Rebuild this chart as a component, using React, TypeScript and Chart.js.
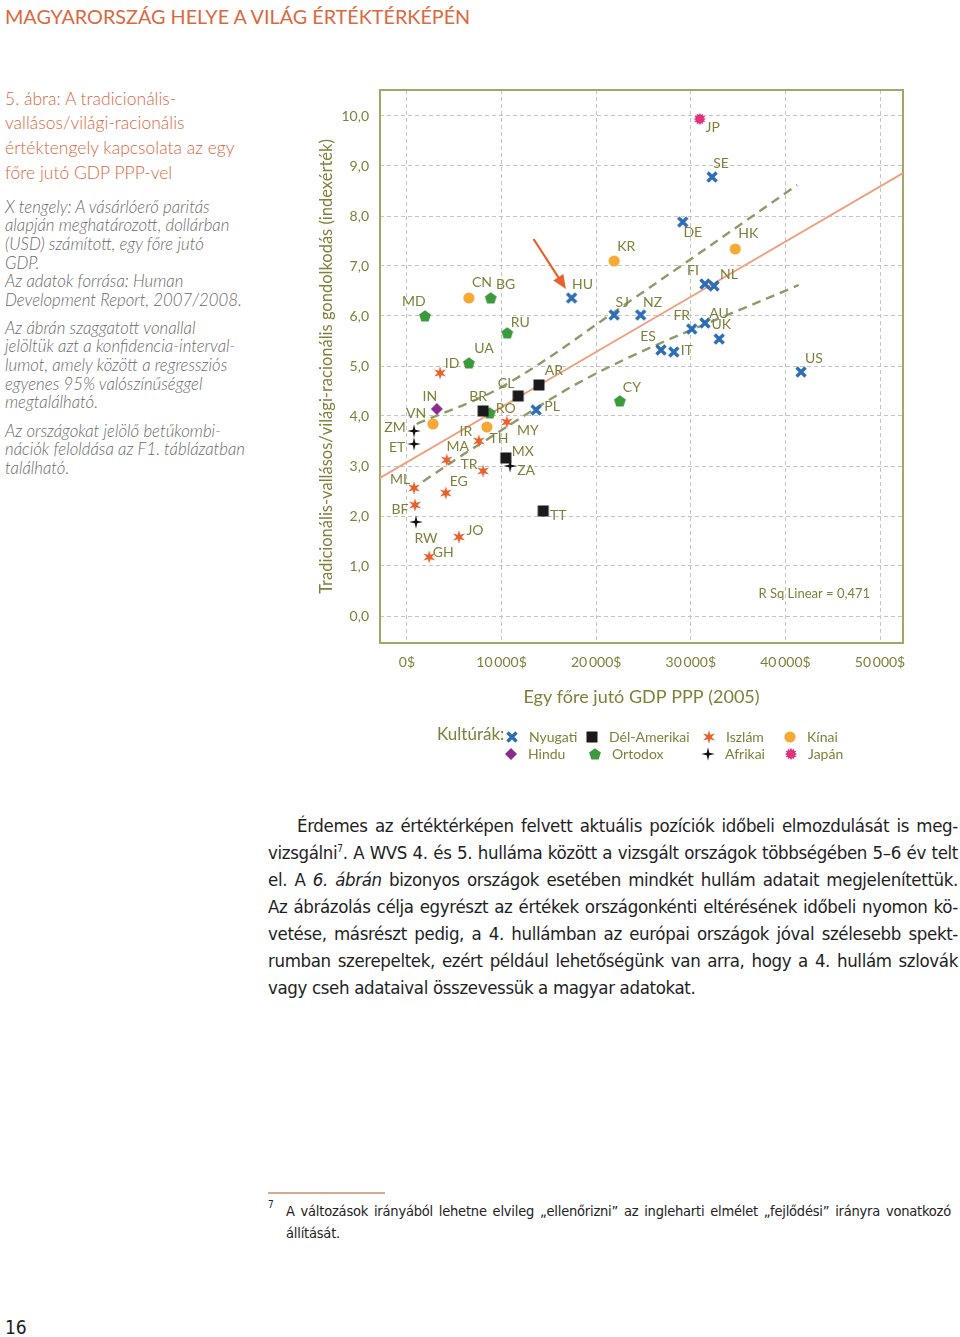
import React, { useEffect, useRef } from "react";
import { Chart, registerables } from "chart.js";

Chart.register(...registerables);

// ---------------- data ----------------
const nyugatiCodes = ["HU", "SJ", "NZ", "FI", "NL", "FR", "AU", "UK", "ES", "IT", "US", "SE", "DE", "PL"];
const nyugatiGdp = [17400, 21900, 24700, 31500, 32450, 30100, 31500, 33000, 26850, 28200, 41650, 32250, 29150, 13650];
const nyugatiIdx = [6.36, 6.02, 6.02, 6.64, 6.6, 5.74, 5.86, 5.54, 5.32, 5.28, 4.88, 8.78, 7.88, 4.12];

const delAmerikaiCodes = ["AR", "CL", "BR", "MX", "TT"];
const delAmerikaiGdp = [13950, 11750, 8050, 10450, 14400];
const delAmerikaiIdx = [4.62, 4.4, 4.1, 3.16, 2.1];

const iszlamCodes = ["ID", "MY", "IR", "MA", "TR", "ML", "EG", "BF", "JO", "GH"];
const iszlamGdp = [3500, 10550, 7600, 4200, 8050, 750, 4100, 850, 5500, 2350];
const iszlamIdx = [4.86, 3.88, 3.5, 3.12, 2.9, 2.56, 2.46, 2.22, 1.58, 1.18];

const kinaiCodes = ["CN", "VN", "TH", "KR", "HK"];
const kinaiGdp = [6550, 2750, 8450, 21900, 34700];
const kinaiIdx = [6.36, 3.84, 3.78, 7.1, 7.34];

const hinduCodes = ["IN"];
const hinduGdp = [3150];
const hinduIdx = [4.14];

const ortodoxCodes = ["BG", "MD", "RU", "UA", "RO", "CY"];
const ortodoxGdp = [8850, 1900, 10600, 6550, 8750, 22500];
const ortodoxIdx = [6.36, 6.0, 5.66, 5.06, 4.06, 4.3];

const afrikaiCodes = ["ZM", "ET", "ZA", "RW"];
const afrikaiGdp = [750, 750, 10900, 950];
const afrikaiIdx = [3.7, 3.44, 3.0, 1.88];

const japanCodes = ["JP"];
const japanGdp = [30950];
const japanIdx = [9.94];

const regressionGdp = [-2850, 52430];
const regressionIdx = [2.76, 8.86];
const upperBandGdp = [1020, 10200, 23200, 41250];
const upperBandIdx = [3.84, 4.6, 6.25, 8.62];
const lowerBandGdp = [1700, 6700, 20400, 41400];
const lowerBandIdx = [2.69, 3.32, 4.89, 6.62];

const arrowFrom = [13380, 7.54];
const arrowTo = [16800, 6.54];

const xTickValues = [0, 10000, 20000, 30000, 40000, 50000];
const xTickLabels = ["0$", "10\u2009000$", "20\u2009000$", "30\u2009000$", "40\u2009000$", "50\u2009000$"];
const yTickValues = [0, 1, 2, 3, 4, 5, 6, 7, 8, 9, 10];
const rSquaredText = "R Sq Linear = 0,471";
const legendPrefix = "Kultúrák:";

// label placement (layout only)
const labelOffsets: Record<string, [number, number]> = {
  JP: [13, 8], SE: [9, -14], DE: [10, 10], HK: [13, -16], KR: [12, -15], FI: [-12, -14], NL: [15, -12],
  CN: [13, -16], BG: [15, -14], HU: [11, -14], MD: [-11, -15], SJ: [8, -13], NZ: [12, -13], RU: [13, -11],
  FR: [-10, -14], AU: [14, -10], UK: [2, -15], ES: [-13, -14], IT: [13, -2], UA: [15, -15], ID: [12, -10],
  AR: [15, -15], US: [13, -14], CY: [12, -14], CL: [-12, -13], IN: [-7, -13], BR: [-5, -15], PL: [16, -4],
  RO: [16, -5], VN: [-17, -11], ZM: [-19, -4], MY: [21, 8], IR: [-13, -10], TH: [12, 11], ET: [-17, 3],
  MA: [11, -14], MX: [17, -7], TR: [-14, -7], ZA: [16, 4], ML: [-14, -9], EG: [13, -12], BF: [-15, 4],
  TT: [15, 4], JO: [16, -7], RW: [10, 16], GH: [14, -5],
};

const OLIVE = "#7f7f3a";
const FRAME = "#a3a766";
const GRID = "#c4c4c4";
const FONT = "Lato, 'Open Sans', sans-serif";

type Series = { name: string; codes: string[]; gdp: number[]; idx: number[]; kind: string; color: string };

const series: Series[] = [
  { name: "Nyugati", codes: nyugatiCodes, gdp: nyugatiGdp, idx: nyugatiIdx, kind: "cross", color: "#2d6db4" },
  { name: "Dél-Amerikai", codes: delAmerikaiCodes, gdp: delAmerikaiGdp, idx: delAmerikaiIdx, kind: "square", color: "#1a1a1a" },
  { name: "Iszlám", codes: iszlamCodes, gdp: iszlamGdp, idx: iszlamIdx, kind: "star6", color: "#e8602c" },
  { name: "Kínai", codes: kinaiCodes, gdp: kinaiGdp, idx: kinaiIdx, kind: "circle", color: "#f6a935" },
  { name: "Hindu", codes: hinduCodes, gdp: hinduGdp, idx: hinduIdx, kind: "diamond", color: "#8b2c8c" },
  { name: "Ortodox", codes: ortodoxCodes, gdp: ortodoxGdp, idx: ortodoxIdx, kind: "pentagon", color: "#3c9a3c" },
  { name: "Afrikai", codes: afrikaiCodes, gdp: afrikaiGdp, idx: afrikaiIdx, kind: "star4", color: "#111111" },
  { name: "Japán", codes: japanCodes, gdp: japanGdp, idx: japanIdx, kind: "burst", color: "#e2317d" },
];

function starPath(g: CanvasRenderingContext2D, n: number, outer: number, inner: number, rot = -Math.PI / 2) {
  g.beginPath();
  for (let i = 0; i < n * 2; i++) {
    const r = i % 2 === 0 ? outer : inner;
    const a = rot + (i * Math.PI) / n;
    const px = Math.cos(a) * r;
    const py = Math.sin(a) * r;
    if (i === 0) g.moveTo(px, py);
    else g.lineTo(px, py);
  }
  g.closePath();
}

function makeMarker(kind: string, color: string): HTMLCanvasElement {
  const s = 16;
  const c = document.createElement("canvas");
  c.width = s;
  c.height = s;
  const g = c.getContext("2d")!;
  g.translate(s / 2, s / 2);
  g.fillStyle = color;
  g.strokeStyle = color;
  switch (kind) {
    case "cross":
      g.lineWidth = 3.4;
      g.beginPath();
      g.moveTo(-4.5, -4.5);
      g.lineTo(4.5, 4.5);
      g.moveTo(4.5, -4.5);
      g.lineTo(-4.5, 4.5);
      g.stroke();
      break;
    case "square":
      g.fillRect(-5.5, -5.5, 11, 11);
      break;
    case "star6":
      starPath(g, 6, 6.8, 2.6);
      g.fill();
      break;
    case "circle":
      g.beginPath();
      g.arc(0, 0, 5.6, 0, Math.PI * 2);
      g.fill();
      break;
    case "diamond":
      g.beginPath();
      g.moveTo(0, -6);
      g.lineTo(6, 0);
      g.lineTo(0, 6);
      g.lineTo(-6, 0);
      g.closePath();
      g.fill();
      break;
    case "pentagon":
      g.beginPath();
      for (let i = 0; i < 5; i++) {
        const a = -Math.PI / 2 + (i * 2 * Math.PI) / 5;
        const px = Math.cos(a) * 6.2;
        const py = Math.sin(a) * 6.2 + 0.5;
        if (i === 0) g.moveTo(px, py);
        else g.lineTo(px, py);
      }
      g.closePath();
      g.fill();
      break;
    case "star4":
      starPath(g, 4, 6.8, 1.8);
      g.fill();
      break;
    case "burst":
      starPath(g, 12, 6.2, 4.2);
      g.fill();
      break;
  }
  return c;
}

export default function App() {
  const canvasRef = useRef<HTMLCanvasElement | null>(null);

  useEffect(() => {
    if (!canvasRef.current) return;
    const markers = series.map((s) => makeMarker(s.kind, s.color));

    const pointDatasets = series.map((s, i) => ({
      type: "scatter" as const,
      label: s.name,
      codes: s.codes,
      data: s.gdp.map((g, j) => ({ x: g, y: s.idx[j] })),
      pointStyle: markers[i],
      pointRadius: 6,
      backgroundColor: s.color,
      borderColor: s.color,
      order: 1,
    }));

    const lineDataset = (xs: number[], ys: number[], color: string, dash: number[], width: number, label: string) => ({
      type: "line" as const,
      label,
      data: xs.map((x, j) => ({ x, y: ys[j] })),
      borderColor: color,
      borderWidth: width,
      borderDash: dash,
      pointRadius: 0,
      tension: 0.35,
      fill: false,
      order: 5,
    });

    const framePlugin = {
      id: "frame",
      beforeDatasetsDraw(chart: any) {
        const { ctx, chartArea: a } = chart;
        ctx.save();
        ctx.strokeStyle = FRAME;
        ctx.lineWidth = 2;
        ctx.strokeRect(a.left, a.top, a.right - a.left, a.bottom - a.top);
        ctx.restore();
      },
    };

    const labelsPlugin = {
      id: "pointLabels",
      afterDatasetsDraw(chart: any) {
        const { ctx } = chart;
        ctx.save();
        ctx.font = `14px ${FONT}`;
        ctx.fillStyle = OLIVE;
        ctx.textAlign = "center";
        ctx.textBaseline = "middle";
        chart.data.datasets.forEach((ds: any, di: number) => {
          if (!ds.codes) return;
          const meta = chart.getDatasetMeta(di);
          meta.data.forEach((el: any, j: number) => {
            const code = ds.codes[j];
            const off = labelOffsets[code] || [10, -10];
            ctx.fillText(code, el.x + off[0], el.y + off[1]);
          });
        });
        // arrow pointing at Hungary
        const xs = chart.scales.x;
        const ys = chart.scales.y;
        const x1 = xs.getPixelForValue(arrowFrom[0]);
        const y1 = ys.getPixelForValue(arrowFrom[1]);
        const x2 = xs.getPixelForValue(arrowTo[0]);
        const y2 = ys.getPixelForValue(arrowTo[1]);
        const ang = Math.atan2(y2 - y1, x2 - x1);
        ctx.strokeStyle = "#e8602c";
        ctx.fillStyle = "#e8602c";
        ctx.lineWidth = 2.2;
        ctx.beginPath();
        ctx.moveTo(x1, y1);
        ctx.lineTo(x2 - Math.cos(ang) * 10, y2 - Math.sin(ang) * 10);
        ctx.stroke();
        ctx.beginPath();
        ctx.moveTo(x2, y2);
        ctx.lineTo(x2 - Math.cos(ang) * 14 + Math.sin(ang) * 6, y2 - Math.sin(ang) * 14 - Math.cos(ang) * 6);
        ctx.lineTo(x2 - Math.cos(ang) * 14 - Math.sin(ang) * 6, y2 - Math.sin(ang) * 14 + Math.cos(ang) * 6);
        ctx.closePath();
        ctx.fill();
        // R squared
        const a = chart.chartArea;
        ctx.font = `13px ${FONT}`;
        ctx.fillStyle = OLIVE;
        ctx.textAlign = "right";
        ctx.fillText(rSquaredText, a.right - 33, a.bottom - 49);
        ctx.restore();
      },
    };

    const legendPlugin = {
      id: "cultureLegend",
      afterDraw(chart: any) {
        const { ctx } = chart;
        const a = chart.chartArea;
        const baseY = a.bottom + 94;
        const colIcon = [
          [212, 292, 409, 490],
          [211, 295, 408, 491],
        ];
        ctx.save();
        ctx.fillStyle = OLIVE;
        ctx.textBaseline = "middle";
        ctx.textAlign = "left";
        ctx.font = `17px ${FONT}`;
        ctx.fillText(legendPrefix, 137, baseY - 2);
        ctx.font = `14px ${FONT}`;
        series.forEach((s, i) => {
          const row = Math.floor(i / 4);
          const col = i % 4;
          const cx = colIcon[row][col];
          const cy = baseY + row * 17;
          ctx.drawImage(markers[i], cx - 8, cy - 8);
          ctx.fillText(s.name, cx + 17, cy);
        });
        ctx.restore();
      },
    };

    const chart = new Chart(canvasRef.current, {
      type: "scatter",
      data: {
        datasets: [
          ...pointDatasets,
          lineDataset(regressionGdp, regressionIdx, "#f0a07e", [], 2, "Linear"),
          lineDataset(upperBandGdp, upperBandIdx, "#8f9a6a", [9, 6], 2.4, "Upper 95%"),
          lineDataset(lowerBandGdp, lowerBandIdx, "#8f9a6a", [9, 6], 2.4, "Lower 95%"),
        ] as any,
      },
      options: {
        responsive: false,
        animation: false,
        layout: { padding: { left: 0, right: 17, top: 10, bottom: 67 } },
        plugins: { legend: { display: false }, tooltip: { enabled: false } },
        scales: {
          x: {
            type: "linear",
            min: -2850,
            max: 52430,
            afterBuildTicks: (s: any) => {
              s.ticks = xTickValues.map((v) => ({ value: v }));
            },
            ticks: {
              autoSkip: false,
              maxRotation: 0,
              padding: 11,
              color: OLIVE,
              font: { family: FONT, size: 14 },
              callback: (v: any) => {
                const k = xTickValues.indexOf(Number(v));
                return k >= 0 ? xTickLabels[k] : "";
              },
            },
            grid: { color: GRID, lineWidth: 1, drawTicks: false },
            border: { display: false, dash: [4, 3] },
            title: {
              display: true,
              text: "Egy főre jutó GDP PPP (2005)",
              color: OLIVE,
              font: { family: FONT, size: 18 },
              padding: { top: 0, bottom: 5 },
            },
            afterFit: (s: any) => {
              s.height = 70;
            },
          },
          y: {
            type: "linear",
            min: -0.54,
            max: 10.52,
            afterBuildTicks: (s: any) => {
              s.ticks = yTickValues.map((v) => ({ value: v }));
            },
            ticks: {
              padding: 0,
              color: OLIVE,
              font: { family: FONT, size: 14 },
              callback: (v: any) => Number(v).toFixed(1).replace(".", ","),
            },
            grid: { color: GRID, lineWidth: 1, drawTicks: true, tickLength: 11, tickColor: "rgba(0,0,0,0)" },
            border: { display: false, dash: [4, 3] },
            title: {
              display: true,
              text: "Tradicionális-vallásos/világi-racionális gondolkodás (indexérték)",
              color: OLIVE,
              font: { family: FONT, size: 16.5 },
              padding: { top: 17, bottom: 0 },
            },
            afterFit: (s: any) => {
              s.width = 80;
            },
          },
        },
      } as any,
      plugins: [framePlugin, labelsPlugin, legendPlugin],
    });
    return () => chart.destroy();
  }, []);

  const abs = (left: number, top: number, extra: React.CSSProperties = {}): React.CSSProperties => ({
    position: "absolute",
    left,
    top,
    margin: 0,
    ...extra,
  });

  const bodyFont = "'Liberation Sans Narrow', 'DejaVu Sans Condensed', 'Noto Sans', sans-serif";
  const bodyLine = (left: number, width: number, last = false): React.CSSProperties =>
    ({
      position: "absolute",
      left,
      width,
      whiteSpace: "nowrap",
      textAlign: last ? "left" : "justify",
      textAlignLast: last ? "left" : "justify",
      fontFamily: bodyFont,
      fontSize: 18.5,
      letterSpacing: -0.35,
      lineHeight: "27px",
      color: "#1e1e1e",
    } as React.CSSProperties);

  const bodyLines: { t: React.ReactNode; l: number; w: number; last?: boolean }[] = [
    { t: "Érdemes az értéktérképen felvett aktuális pozíciók időbeli elmozdulását is meg-", l: 297, w: 661 },
    {
      t: (
        <>
          vizsgálni<sup style={{ fontSize: 10, lineHeight: 0 }}>7</sup>. A WVS 4. és 5. hulláma között a vizsgált országok többségében 5–6 év telt
        </>
      ),
      l: 268,
      w: 690,
    },
    {
      t: (
        <>
          el. A <i>6. ábrán</i> bizonyos országok esetében mindkét hullám adatait megjelenítettük.
        </>
      ),
      l: 268,
      w: 690,
    },
    { t: "Az ábrázolás célja egyrészt az értékek országonkénti eltérésének időbeli nyomon kö-", l: 268, w: 690 },
    { t: "vetése, másrészt pedig, a 4. hullámban az európai országok jóval szélesebb spekt-", l: 268, w: 690 },
    { t: "rumban szerepeltek, ezért például lehetőségünk van arra, hogy a 4. hullám szlovák", l: 268, w: 690 },
    { t: "vagy cseh adataival összevessük a magyar adatokat.", l: 268, w: 690, last: true },
  ];

  const grayItalic: React.CSSProperties = {
    fontFamily: FONT,
    fontStyle: "italic",
    fontSize: 16.8,
    lineHeight: "18.7px",
    color: "#6a6a6a",
    fontWeight: 300,
  };

  return (
    <div
      style={{
        position: "absolute",
        left: 0,
        top: 0,
        width: 960,
        height: 1337,
        background: "#ffffff",
        overflow: "hidden",
        fontFamily: FONT,
      }}
    >
      <div style={abs(5, 4, { fontSize: 19.8, lineHeight: "24px", color: "#d9693f", fontFamily: FONT })}>
        MAGYARORSZÁG HELYE A VILÁG ÉRTÉKTÉRKÉPÉN
      </div>

      <div style={abs(5, 86.7, { fontSize: 17.5, lineHeight: "24.7px", color: "#d9693f", fontFamily: FONT, fontWeight: 300 })}>
        5. ábra: A tradicionális-
        <br />
        vallásos/világi-racionális
        <br />
        értéktengely kapcsolata az egy
        <br />
        főre jutó GDP PPP-vel
      </div>

      <div style={abs(5, 197.6, grayItalic)}>
        X tengely: A vásárlóerő paritás
        <br />
        alapján meghatározott, dollárban
        <br />
        (USD) számított, egy főre jutó
        <br />
        GDP.
        <br />
        Az adatok forrása: Human
        <br />
        Development Report, 2007/2008.
      </div>

      <div style={abs(5, 318.6, grayItalic)}>
        Az ábrán szaggatott vonallal
        <br />
        jelöltük azt a konfidencia-interval-
        <br />
        lumot, amely között a regressziós
        <br />
        egyenes 95% valószínűséggel
        <br />
        megtalálható.
      </div>

      <div style={abs(5, 421.6, grayItalic)}>
        Az országokat jelölő betűkombi-
        <br />
        nációk feloldása az F1. táblázatban
        <br />
        található.
      </div>

      <canvas
        ref={canvasRef}
        width={620}
        height={700}
        style={{ position: "absolute", left: 300, top: 80, width: 620, height: 700, display: "block" }}
      />

      {bodyLines.map((ln, i) => (
        <div key={i} style={{ ...bodyLine(ln.l, ln.w, ln.last), top: 811.5 + i * 27 }}>
          {ln.t}
        </div>
      ))}

      <div style={abs(268, 1192, { width: 117, height: 2, background: "#d9a88e" })} />
      <div style={abs(268, 1199, { fontFamily: bodyFont, fontSize: 10, lineHeight: "12px", color: "#222" })}>7</div>
      <div
        style={abs(286, 1200, {
          width: 665,
          fontFamily: bodyFont,
          fontSize: 14.5,
          letterSpacing: -0.2,
          lineHeight: "22px",
          color: "#222",
          whiteSpace: "nowrap",
          textAlign: "justify",
          textAlignLast: "justify",
        } as React.CSSProperties)}
      >
        A változások irányából lehetne elvileg „ellenőrizni” az ingleharti elmélet „fejlődési” irányra vonatkozó
      </div>
      <div style={abs(286, 1222, { fontFamily: bodyFont, fontSize: 14.5, letterSpacing: -0.2, lineHeight: "22px", color: "#222" })}>
        állítását.
      </div>

      <div style={abs(5, 1315, { fontFamily: bodyFont, fontSize: 19, lineHeight: "24px", color: "#222" })}>16</div>
    </div>
  );
}
